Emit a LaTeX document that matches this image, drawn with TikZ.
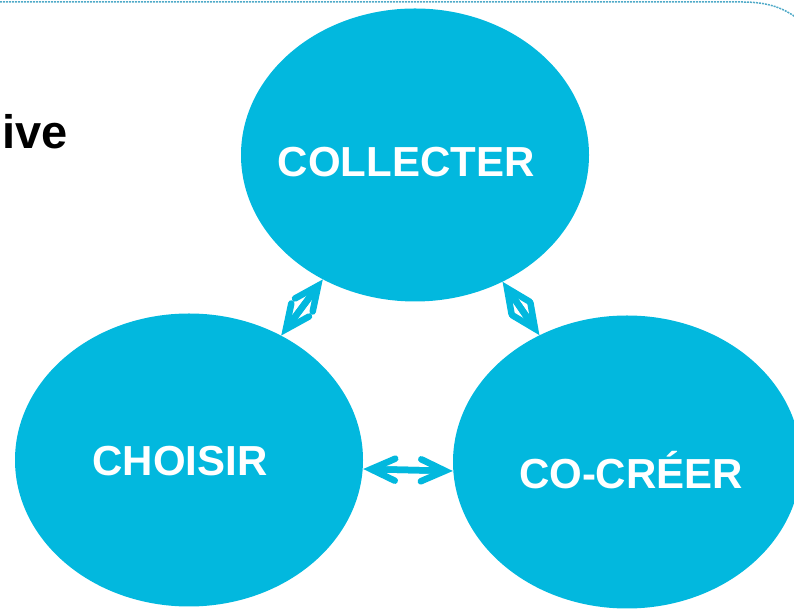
\documentclass[tikz,border=0pt]{standalone}
\usepackage{fontspec}
\setmainfont{Liberation Sans}
\usetikzlibrary{positioning,calc,shapes.geometric,arrows.meta}
\definecolor{bulle}{RGB}{2,184,222}
\definecolor{cadre}{RGB}{80,170,200}
\tikzset{
	bubble/.style={ellipse, fill=bulle, minimum width=348pt, minimum height=293pt, inner sep=0pt},
	bubbletext/.style={text=white, font=\fontsize{42pt}{50pt}\selectfont\bfseries, text height=30pt, text depth=0pt, inner sep=0pt},
	barb/.tip={Straight Barb[line cap=round, line join=miter, length=24pt, width=22pt]},
	link/.style={bulle, line width=6.5pt, barb-barb,
		postaction={draw, -, shorten >=8pt, shorten <=8pt}},
}

\begin{document}
\begin{tikzpicture}[x=1pt, y=1pt]
	\useasboundingbox (0,0) rectangle (794,609);
	\draw[cadre, line width=1.5pt, dash pattern=on 2pt off 1pt] (0,607) -- (742,607) .. controls (768,607) and (784,601) .. (798,590);
	\node[anchor=base west, inner sep=0pt, font=\fontsize{47pt}{56pt}\selectfont\bfseries] (titre) at (2,460) {ive};

	\node[bubble] (collecter) at (415,454) {};
	\node[bubble, on grid, below left=305pt and 226pt of collecter] (choisir) {};
	\node[bubble, on grid, below right=307pt and 212pt of collecter] (cocreer) {};

	\node[bubbletext] (t-collecter) at ($(collecter)+(-9,-6.5)$) {COLLECTER};
	\node[bubbletext] (t-choisir) at ($(choisir)+(-9,-1)$) {CHOISIR};
	\node[bubbletext] (t-cocreer) at ($(cocreer)+(4,-12)$) {CO-CRÉER};

	\draw[link] (choisir) -- (collecter);
	\draw[link] (collecter) -- (cocreer);
	\draw[link] ([yshift=-9pt]choisir.east) -- ([yshift=-9pt]cocreer.west);
\end{tikzpicture}
\end{document}
